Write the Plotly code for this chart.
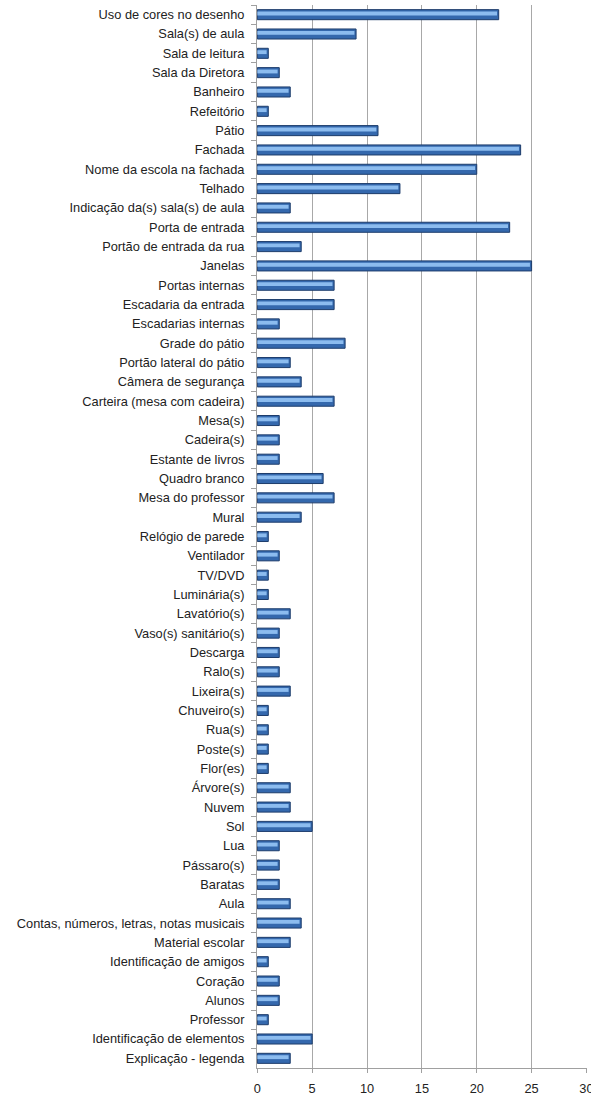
import plotly.graph_objects as go

categorias = [
    "Uso de cores no desenho", "Sala(s) de aula", "Sala de leitura", "Sala da Diretora",
    "Banheiro", "Refeitório", "Pátio", "Fachada", "Nome da escola na fachada", "Telhado",
    "Indicação da(s) sala(s) de aula", "Porta de entrada", "Portão de entrada da rua",
    "Janelas", "Portas internas", "Escadaria da entrada", "Escadarias internas",
    "Grade do pátio", "Portão lateral do pátio", "Câmera de segurança",
    "Carteira (mesa com cadeira)", "Mesa(s)", "Cadeira(s)", "Estante de livros",
    "Quadro branco", "Mesa do professor", "Mural", "Relógio de parede", "Ventilador",
    "TV/DVD", "Luminária(s)", "Lavatório(s)", "Vaso(s) sanitário(s)", "Descarga",
    "Ralo(s)", "Lixeira(s)", "Chuveiro(s)", "Rua(s)", "Poste(s)", "Flor(es)",
    "Árvore(s)", "Nuvem", "Sol", "Lua", "Pássaro(s)", "Baratas", "Aula",
    "Contas, números, letras, notas musicais", "Material escolar",
    "Identificação de amigos", "Coração", "Alunos", "Professor",
    "Identificação de elementos", "Explicação - legenda",
]
valores = [
    22, 9, 1, 2, 3, 1, 11, 24, 20, 13,
    3, 23, 4, 25, 7, 7, 2, 8, 3, 4,
    7, 2, 2, 2, 6, 7, 4, 1, 2, 1,
    1, 3, 2, 2, 2, 3, 1, 1, 1, 1,
    3, 3, 5, 2, 2, 2, 3, 4, 3, 1,
    2, 2, 1, 5, 3,
]
ticks_x = [0, 5, 10, 15, 20, 25, 30]

fig = go.Figure()
# dark body of each bar
fig.add_trace(go.Bar(
    y=categorias, x=valores, orientation="h", width=0.52,
    marker=dict(color="#3468ad", line=dict(color="#1d3c6b", width=1)),
    hoverinfo="x+y",
))
# lighter highlight strip across the bar
fig.add_trace(go.Bar(
    y=categorias, x=[max(v - 0.15, 0) for v in valores], orientation="h",
    width=0.2, offset=-0.16,
    marker=dict(color="#8cbcef", line=dict(width=0)),
    hoverinfo="skip",
))

fig.update_layout(
    width=591, height=1097,
    margin=dict(l=257, r=4, t=5, b=29),
    barmode="overlay",
    showlegend=False,
    plot_bgcolor="white",
    paper_bgcolor="white",
    font=dict(family="Liberation Sans, Arial, sans-serif", size=12.8, color="#222222"),
)
fig.update_xaxes(
    range=[-0.03, 30.05], tickvals=ticks_x, ticktext=[str(t) for t in ticks_x],
    showgrid=True, gridcolor="#a8a8a8", gridwidth=1,
    showline=True, linecolor="#a0a0a0", linewidth=1,
    ticks="outside", ticklen=4, tickcolor="#a0a0a0",
    ticklabelstandoff=5, ticklabeloverflow="allow", automargin=False,
    zeroline=False,
    tickfont=dict(size=12.8, color="#222222"),
)
fig.update_yaxes(
    autorange="reversed", categoryorder="array", categoryarray=categorias,
    showline=True, linecolor="#a0a0a0", linewidth=1,
    ticks="outside", ticklen=5, tickcolor="#a0a0a0", tickson="boundaries",
    showgrid=False, ticklabelstandoff=9, automargin=False,
    tickfont=dict(size=12.8, color="#222222"),
)

fig.write_html("out.html")
